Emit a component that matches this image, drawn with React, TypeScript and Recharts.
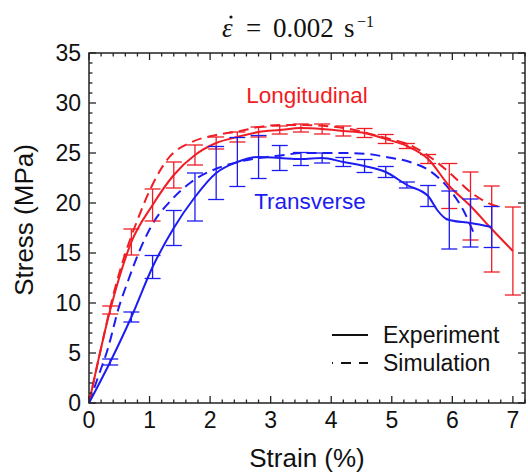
import React from "react";
import {
  ComposedChart,
  Line,
  Scatter,
  ErrorBar,
  XAxis,
  YAxis,
  ReferenceArea,
  Customized,
} from "recharts";

// ---------- data ----------
const longExpStrain = [0, 0.35, 0.7, 1.05, 1.4, 1.75, 2.1, 2.45, 2.8, 3.15, 3.5, 3.85, 4.2, 4.55, 4.9, 5.25, 5.6, 5.95, 6.3, 6.65, 7.0];
const longExpStress = [0, 9.3, 16.1, 19.8, 22.8, 24.8, 26.0, 26.6, 27.1, 27.3, 27.5, 27.4, 27.2, 27.0, 26.4, 25.7, 24.4, 21.7, 19.7, 17.4, 15.2];
const longExpErr = [0, 0.4, 1.3, 1.6, 1.3, 1.0, 0.6, 0.5, 0.5, 0.4, 0.4, 0.5, 0.5, 0.45, 0.45, 0.25, 0.45, 2.25, 3.4, 4.3, 4.4];

const longSimStrain = [0, 0.2, 0.4, 0.55, 0.8, 1.03, 1.3, 1.7, 2.1, 2.5, 2.8, 3.2, 3.5, 4.2, 4.9, 5.3, 5.63, 5.96, 6.32, 6.67, 6.8];
const longSimStress = [0, 5.5, 10.8, 14.0, 18.3, 21.6, 24.4, 26.1, 26.8, 27.2, 27.6, 27.8, 27.8, 27.5, 26.5, 25.8, 24.6, 23.0, 21.0, 19.8, 19.6];

const transExpStrain = [0, 0.35, 0.7, 1.05, 1.4, 1.75, 2.1, 2.45, 2.8, 3.15, 3.5, 3.85, 4.2, 4.55, 4.9, 5.25, 5.6, 5.75, 5.9, 5.95, 6.3, 6.65];
const transExpStress = [0, 4.1, 8.6, 13.6, 17.5, 20.6, 23.0, 24.1, 24.6, 24.5, 24.4, 24.5, 24.1, 23.7, 23.1, 21.8, 20.7, 19.3, 18.4, 18.3, 18.0, 17.6];
const transExpErr = [0, 0.3, 0.5, 1.15, 1.75, 2.4, 2.65, 2.45, 2.15, 1.25, 0.65, 0.5, 0.45, 0.65, 0.55, 0.3, 1.05, 0, 0, 2.9, 2.4, 2.05];

const transSimStrain = [0, 0.15, 0.32, 0.48, 0.65, 0.84, 1.03, 1.36, 1.69, 2.13, 2.46, 2.8, 3.23, 3.5, 4.2, 4.6, 4.91, 5.3, 5.63, 5.96, 6.18, 6.38];
const transSimStress = [0, 2.6, 5.6, 9.3, 12.3, 15.3, 17.7, 20.3, 22.1, 23.5, 24.1, 24.5, 24.8, 25.0, 25.0, 24.9, 24.6, 24.1, 23.2, 21.3, 19.3, 16.6];

const xTickValues = [0, 0.2, 0.4, 0.6, 0.8, 1, 1.2, 1.4, 1.6, 1.8, 2, 2.2, 2.4, 2.6, 2.8, 3, 3.2, 3.4, 3.6, 3.8, 4, 4.2, 4.4, 4.6, 4.8, 5, 5.2, 5.4, 5.6, 5.8, 6, 6.2, 6.4, 6.6, 6.8, 7, 7.2];
const yTickValues = [0, 1, 2, 3, 4, 5, 6, 7, 8, 9, 10, 11, 12, 13, 14, 15, 16, 17, 18, 19, 20, 21, 22, 23, 24, 25, 26, 27, 28, 29, 30, 31, 32, 33, 34, 35];

const legendLabels = ["Experiment", "Simulation"];

// ---------- build tables ----------
const toRows = (xs: number[], ys: number[], errs?: number[]) =>
  xs.map((x, i) => ({ x, y: ys[i], err: errs ? errs[i] : 0 }));

const longExp = toRows(longExpStrain, longExpStress, longExpErr);
const longSim = toRows(longSimStrain, longSimStress);
const transExp = toRows(transExpStrain, transExpStress, transExpErr);
const transSim = toRows(transSimStrain, transSimStress);
const longBars = longExp.filter((r) => r.err > 0);
const transBars = transExp.filter((r) => r.err > 0);

// ---------- style ----------
const RED = "#ef1d25";
const BLUE = "#1c1cf2";
const AXIS = "#222";
const SANS = "'Liberation Sans', Arial, sans-serif";
const SERIF = "'Liberation Serif', 'Times New Roman', serif";
const W = 528;
const H = 475;
const M = { top: 53, right: 3, left: 0, bottom: 0 };
const Y_W = 89;
const X_H = 72;
const PLOT_TOP = M.top;
const PLOT_RIGHT = W - M.right;

const XTick = (props: any) => {
  const { x, y, payload } = props;
  const v = payload.value as number;
  const major = Math.abs(v - Math.round(v)) < 1e-6 && v <= 7;
  const len = major ? 7 : 3.5;
  return (
    <g>
      <line x1={x} x2={x} y1={y} y2={y - len} stroke={AXIS} strokeWidth={1.3} />
      <line x1={x} x2={x} y1={PLOT_TOP} y2={PLOT_TOP + len} stroke={AXIS} strokeWidth={1.3} />
      {major && (
        <text x={x} y={y + 25} textAnchor="middle" fontFamily={SANS} fontSize={23} fill="#111">
          {Math.round(v)}
        </text>
      )}
    </g>
  );
};

const YTick = (props: any) => {
  const { x, y, payload } = props;
  const v = payload.value as number;
  const major = v % 5 === 0;
  const len = major ? 7 : 3.5;
  return (
    <g>
      <line x1={x} x2={x + len} y1={y} y2={y} stroke={AXIS} strokeWidth={1.3} />
      <line x1={PLOT_RIGHT} x2={PLOT_RIGHT - len} y1={y} y2={y} stroke={AXIS} strokeWidth={1.3} />
      {major && (
        <text x={x - 8} y={y + 8} textAnchor="end" fontFamily={SANS} fontSize={23} fill="#111">
          {v}
        </text>
      )}
    </g>
  );
};

const Texts = () => (
  <g>
    {/* title */}
    <text x={222} y={37} fontFamily={SERIF} fontSize={27} fontStyle="italic" fill="#111">{"\u03B5"}</text>
    <circle cx={231} cy={17} r={1.6} fill="#111" />
    <text x={246} y={37} fontFamily={SERIF} fontSize={27} fill="#111">=</text>
    <text x={273} y={37} fontFamily={SERIF} fontSize={27} fill="#111">0.002</text>
    <text x={344} y={37} fontFamily={SERIF} fontSize={27} fill="#111">s</text>
    <text x={357} y={27} fontFamily={SERIF} fontSize={16} fill="#111">{"\u22121"}</text>
    {/* series labels */}
    <text x={307} y={103} textAnchor="middle" fontFamily={SANS} fontSize={22.5} fill={RED}>
      Longitudinal
    </text>
    <text x={310} y={209} textAnchor="middle" fontFamily={SANS} fontSize={22.5} fill={BLUE}>
      Transverse
    </text>
    {/* axis titles */}
    <text x={24} y={220} textAnchor="middle" fontFamily={SANS} fontSize={26} fill="#111" transform="rotate(-90 24 220)" dominantBaseline="central">
      Stress (MPa)
    </text>
    <text x={307} y={467} textAnchor="middle" fontFamily={SANS} fontSize={26} fill="#111">
      Strain (%)
    </text>
    {/* legend */}
    <line x1={332} x2={368} y1={335} y2={335} stroke="#111" strokeWidth={2} />
    <text x={383} y={343} fontFamily={SANS} fontSize={23} fill="#111">{legendLabels[0]}</text>
    <line x1={332} x2={368} y1={363} y2={363} stroke="#111" strokeWidth={2} strokeDasharray="10 8" strokeDashoffset={9} />
    <text x={383} y={371} fontFamily={SANS} fontSize={23} fill="#111">{legendLabels[1]}</text>
  </g>
);

const NoShape = () => <g />;

export default function App() {
  return (
    <div style={{ position: "absolute", left: 0, top: 0, width: W, height: H, background: "#fff" }}>
      <ComposedChart width={W} height={H} margin={M}>
        <XAxis
          type="number"
          dataKey="x"
          domain={[0, 7.2]}
          ticks={xTickValues}
          interval={0}
          allowDataOverflow
          height={X_H}
          tickSize={0}
          tickMargin={0}
          tickLine={false}
          axisLine={false}
          tick={<XTick />}
        />
        <YAxis
          type="number"
          domain={[0, 35]}
          ticks={yTickValues}
          interval={0}
          allowDataOverflow
          width={Y_W}
          tickSize={0}
          tickMargin={0}
          tickLine={false}
          axisLine={false}
          tick={<YTick />}
        />
        <ReferenceArea x1={0} x2={7.2} y1={0} y2={35} fill="none" fillOpacity={0} stroke={AXIS} strokeWidth={1.5} ifOverflow="visible" />
        <Line data={longSim} dataKey="y" type="monotone" stroke={RED} strokeWidth={2} strokeDasharray="10 6" dot={false} isAnimationActive={false} />
        <Line data={transSim} dataKey="y" type="monotone" stroke={BLUE} strokeWidth={2} strokeDasharray="10 6" dot={false} isAnimationActive={false} />
        <Line data={longExp} dataKey="y" type="monotone" stroke={RED} strokeWidth={2} dot={false} isAnimationActive={false} />
        <Line data={transExp} dataKey="y" type="monotone" stroke={BLUE} strokeWidth={2} dot={false} isAnimationActive={false} />
        <Scatter data={longBars} dataKey="y" shape={<NoShape />} isAnimationActive={false}>
          <ErrorBar dataKey="err" direction="y" width={8} stroke={RED} strokeWidth={1.3} />
        </Scatter>
        <Scatter data={transBars} dataKey="y" shape={<NoShape />} isAnimationActive={false}>
          <ErrorBar dataKey="err" direction="y" width={8} stroke={BLUE} strokeWidth={1.3} />
        </Scatter>
        <Customized component={<Texts />} />
      </ComposedChart>
    </div>
  );
}
